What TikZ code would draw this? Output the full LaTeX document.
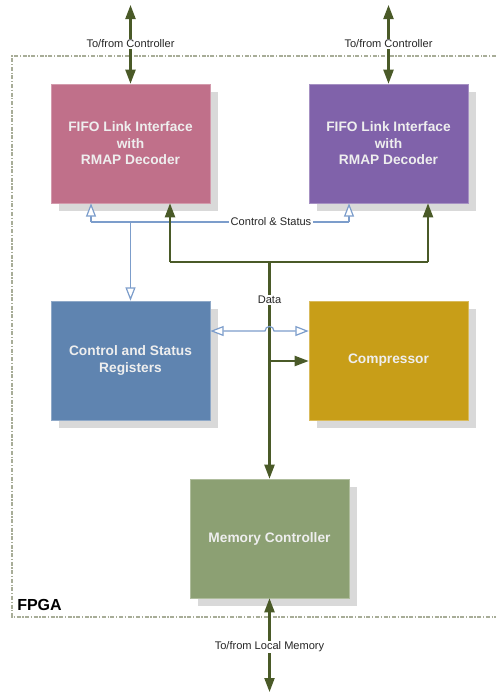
\documentclass[tikz,border=0pt]{standalone}
\usepackage{fontspec}
\setmainfont{Liberation Sans}
\usetikzlibrary{arrows.meta,shadows,calc}
\definecolor{cpink}{HTML}{C0708A}
\definecolor{cpurple}{HTML}{8062AA}
\definecolor{cblue}{HTML}{5F84B0}
\definecolor{cgold}{HTML}{C89E18}
\definecolor{cgreen}{HTML}{8CA073}
\definecolor{cdark}{HTML}{4A5A28}
\definecolor{cline}{HTML}{7C9DCB}
\definecolor{cframe}{HTML}{A8AD98}
\definecolor{ctext}{HTML}{EEEEEE}
\tikzset{
  blockbox/.style={rectangle, minimum width=119.25pt, minimum height=89.25pt,
    inner sep=0pt, align=center, text=ctext,
    font=\fontsize{10.3}{12.4}\selectfont\bfseries,
    drop shadow={shadow xshift=6pt, shadow yshift=-6pt, fill=black!15, opacity=1}},
  lbl/.style={font=\fontsize{8.3}{10}\selectfont, text=black!85, fill=white, inner sep=1pt},
  dataline/.style={draw=cdark, line width=1.6pt},
  dataarrow/.style={dataline, -{Triangle[width=7.5pt,length=10.5pt]}},
  databoth/.style={dataline, {Triangle[width=7.5pt,length=10.5pt]}-{Triangle[width=7.5pt,length=10.5pt]}},
  ctlline/.style={draw=cline, line width=0.9pt},
  ctlarrow/.style={ctlline, -{Triangle[open,width=7.5pt,length=10pt,fill=white]}},
  ctlboth/.style={ctlline, {Triangle[open,width=7.5pt,length=10pt,fill=white]}-{Triangle[open,width=7.5pt,length=10pt,fill=white]}},
}
\begin{document}
\begin{tikzpicture}[x=0.75pt,y=-0.75pt]
\useasboundingbox (0,0) rectangle (496,696);
% FPGA frame
\draw[cframe, line width=0.8pt, dash pattern=on 3pt off 1.2pt on 1pt off 1.2pt]
  (496,56) -- (12,56) -- (12,617) -- (496,617);
\node[anchor=west, font=\fontsize{12}{14}\selectfont\bfseries, inner sep=0pt] (fpga) at (17,605) {FPGA};
% blocks
\node[blockbox, fill=cpink, draw=cpink!70!white] (fifoL) at (130.5,143.5) {FIFO Link Interface\\with\\RMAP Decoder};
\node[blockbox, fill=cpurple, draw=cpurple!70!white] (fifoR) at (388.5,143.5) {FIFO Link Interface\\with\\RMAP Decoder};
\node[blockbox, fill=cblue, draw=cblue!70!white] (csr) at (130.5,360.5) {Control and Status\\Registers};
\node[blockbox, fill=cgold, draw=cgold!70!white] (comp) at (388.5,360.5) {Compressor};
\node[blockbox, fill=cgreen, draw=cgreen!70!white] (mem) at (269.5,538.5) {Memory Controller};
% external connections
\coordinate (extL) at (130.5,5);
\coordinate (extR) at (388.5,5);
\coordinate (extM) at (269.5,692);
\draw[databoth] (extL) -- (fifoL.north);
\draw[databoth] (extR) -- (fifoR.north);
\draw[databoth] (mem.south) -- (extM);
\node[lbl] (lblL) at (130.5,44) {To/from Controller};
\node[lbl] (lblR) at (388.5,44) {To/from Controller};
\node[lbl] (lblM) at (269.5,647) {To/from Local Memory};
% control & status
\coordinate (csA) at (91,222);
\coordinate (csB) at (349,222);
\coordinate (csC) at (130.5,222);
\draw[ctlline] (csA) -- (csB);
\draw[ctlarrow] (csA) -- (csA |- fifoL.south);
\draw[ctlarrow] (csB) -- (csB |- fifoR.south);
\draw[ctlarrow] (csC) -- (csr.north);
\node[lbl] (lblCS) at (271,222) {Control \& Status};
% data
\coordinate (dA) at (170,262);
\coordinate (dB) at (428,262);
\coordinate (dC) at (269.5,262);
\coordinate (dD) at (269.5,361);
\draw[dataarrow] (dA) -- (dA |- fifoL.south);
\draw[dataarrow] (dB) -- (dB |- fifoR.south);
\draw[dataline] (dA) -- (dB);
\draw[dataarrow] (dC) -- (mem.north);
\draw[dataarrow] (dD) -- (dD -| comp.west);
\node[lbl] (lblD) at (269.5,300) {Data};
% control link csr <-> compressor with hop
\draw[ctlboth] (csr.east |- 0,331) -- (265,331) .. controls (265,325) and (274,325) .. (274,331) -- (comp.west |- 0,331);
\end{tikzpicture}
\end{document}
